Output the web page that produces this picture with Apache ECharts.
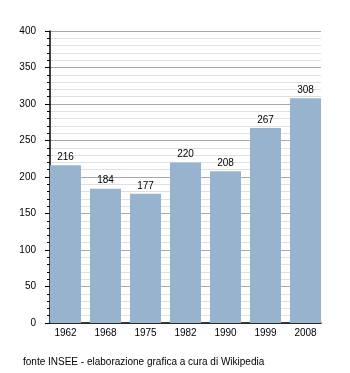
<!DOCTYPE html>
<html><head><meta charset="utf-8">
<script src="https://cdn.jsdelivr.net/npm/echarts@6/dist/echarts.min.js"></script>
<style>html,body{margin:0;padding:0;background:#fff}#c{width:350px;height:373px}</style>
</head><body><div id="c"></div>
<script>
const years = ['1962','1968','1975','1982','1990','1999','2008'];
const population = [216,184,177,220,208,267,308];
const yTicks = [0,50,100,150,200,250,300,350,400];
const source = 'fonte INSEE - elaborazione grafica a cura di Wikipedia';

const chart = echarts.init(document.getElementById('c'), null, {renderer:'canvas'});
const font = 'Liberation Sans, Arial, sans-serif';
chart.setOption({
  animation:false,
  backgroundColor:'#fff',
  grid:{left:50, right:29, top:31, bottom:50, containLabel:false},
  graphic:[{type:'text', left:23, top:357, style:{text:source, font:'10px Liberation Sans, Arial, sans-serif', fill:'#000'}}],
  xAxis:{
    type:'value', min:-0.3875, max:6.3875,
    axisLine:{show:true, onZero:false, lineStyle:{color:'#000', width:1.5}},
    axisTick:{show:false},
    splitLine:{show:false},
    axisLabel:{customValues:[0,1,2,3,4,5,6], formatter:v=>years[Math.round(v)], color:'#000', fontSize:10, fontFamily:font, margin:5}
  },
  yAxis:{
    type:'value', min:0, max:400, interval:50,
    axisLine:{show:true, onZero:false, lineStyle:{color:'#000', width:1.5}},
    axisTick:{show:true, length:5, lineStyle:{color:'#000'}},
    minorTick:{show:true, splitNumber:5, length:3, lineStyle:{color:'#000'}},
    splitLine:{show:true, lineStyle:{color:'#a8a8a8', width:1}},
    minorSplitLine:{show:true, lineStyle:{color:'#e0e0e0', width:1}},
    axisLabel:{color:'#000', fontSize:10, fontFamily:font, margin:14, formatter:v=>yTicks.includes(v)?String(v):''}
  },
  series:[{
    type:'bar', barWidth:31, z:1,
    data:population.map((v,i)=>[i,v]),
    itemStyle:{color:'#98b3cd'},
    label:{show:true, position:'top', distance:3, color:'#000', fontSize:10, fontFamily:font, formatter:p=>p.value[1]}
  }]
});
</script></body></html>
